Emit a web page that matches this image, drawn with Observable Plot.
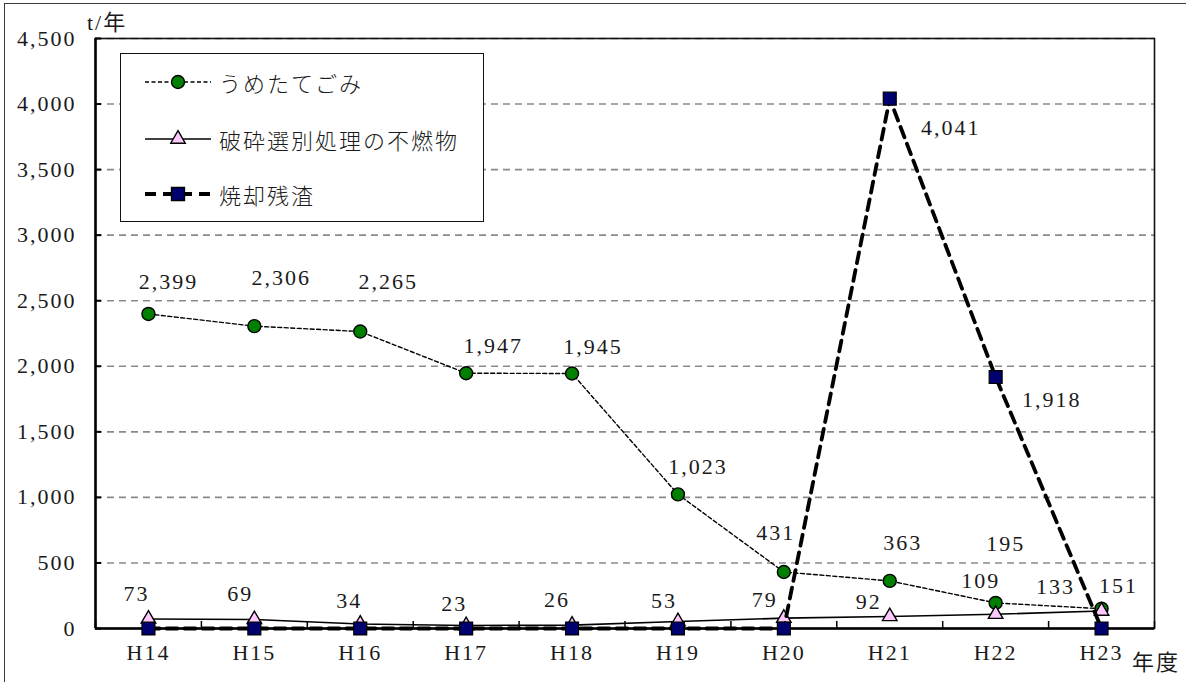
<!DOCTYPE html>
<html>
<head>
<meta charset="utf-8">
<script src="https://cdn.jsdelivr.net/npm/d3@7"></script>
<script src="https://cdn.jsdelivr.net/npm/@observablehq/plot@0.6"></script>
<style>
  html, body { margin: 0; padding: 0; background: #fff; overflow: hidden; }
  #wrap { position: relative; width: 1186px; height: 682px; }
  #frame { position: absolute; left: 4px; top: 3px; width: 1200px; height: 700px;
           border: 1.5px solid #3a3a3a; box-sizing: border-box; pointer-events: none; }
  #chart svg text { letter-spacing: 2px; }
  .note { position: absolute; font-family: 'Liberation Serif', 'Noto Sans CJK JP', serif;
          font-size: 22px; letter-spacing: 2px; color: #1a1a1a; line-height: 1; white-space: nowrap; }
  #legend { position: absolute; left: 120px; top: 53px; width: 364px; height: 169px;
            border: 1.5px solid #111; box-sizing: border-box; background: #fff; }
  #legend .row { position: absolute; left: 0; height: 30px; display: flex; align-items: center; }
  #legend .row svg { margin-left: 24px; }
  #legend .row span { margin-left: 8px; font-family: 'Noto Sans CJK JP', sans-serif; font-weight: 300;
                      font-size: 22px; letter-spacing: 2px; color: #1a1a1a; white-space: nowrap; }
</style>
</head>
<body>
<div id="wrap">
  <div id="chart"></div>
  <div class="note" style="left:87px; top:12px;">t/年</div>
  <div class="note" style="left:1132px; top:652px;">年度</div>
  <div id="legend"></div>
  <div id="frame"></div>
</div>
<script>
// Fiscal years and annual tonnages per disposal stream
const years = ["H14", "H15", "H16", "H17", "H18", "H19", "H20", "H21", "H22", "H23"];
const umetate = [2399, 2306, 2265, 1947, 1945, 1023, 431, 363, 195, 151];   // うめたてごみ
const hasai = [73, 69, 34, 23, 26, 53, 79, 92, 109, 133];                   // 破砕選別処理の不燃物
const shokyaku = [0, 0, 0, 0, 0, 0, 0, 4041, 1918, 0];                       // 焼却残渣
const yTicks = [0, 500, 1000, 1500, 2000, 2500, 3000, 3500, 4000, 4500];

// Label nudges (px) so value labels sit clear of lines and markers
const umetateShift = [[20,-32],[27,-48],[28,-50],[27,-27],[21,-27],[20,-27],[-8,-39],[13,-38],[10,-59],[17,-23]];
const hasaiShift = [[-12,-25],[-14,-26],[-11,-23],[-12,-22],[-15,-25],[-14,-21],[-19,-18],[-21,-14],[-15,-33],[-46,-24]];
const shokyakuShift = [null, null, null, null, null, null, null, [61,29], [56,23], null];

const W = 1186, H = 682;
const M = {left: 95, right: 32, top: 38, bottom: 54};
const yMax = 4500;
const xPerPx = years.length / (W - M.left - M.right);
const yPerPx = yMax / (H - M.top - M.bottom);
const fmt = d3.format(",");
const ink = "#1a1a1a";

const rows = (vals) => vals.map((v, i) => ({i, year: years[i], value: v}));
const umetateRows = rows(umetate);
const hasaiRows = rows(hasai);
const shokyakuRows = rows(shokyaku);

const labels = (data, shifts) => data.flatMap((d, k) => shifts[k] == null ? [] : [
  Plot.text([d], {x: "i", y: "value", text: (r) => fmt(r.value), dx: shifts[k][0], dy: shifts[k][1],
                  fill: ink, fontSize: 22})
]);

const boundaries = d3.range(years.length + 1).map((k) => k - 0.5);

const chart = Plot.plot({
  width: W,
  height: H,
  marginLeft: M.left, marginRight: M.right, marginTop: M.top, marginBottom: M.bottom,
  style: {fontFamily: "'Liberation Serif', 'Noto Sans CJK JP', serif", fontSize: "22px", color: ink, background: "transparent"},
  x: {type: "linear", domain: [-0.5, years.length - 0.5], axis: null},
  y: {domain: [0, yMax], axis: null},
  marks: [
    // dashed horizontal grid
    Plot.ruleY(yTicks.filter((v) => v > 0), {stroke: "#8a8a8a", strokeWidth: 1.6, strokeDasharray: "7,5"}),
    Plot.frame({stroke: "#111", strokeWidth: 1.6}),
    // axis lines
    Plot.ruleX([-0.5], {stroke: "#000", strokeWidth: 2.5}),
    Plot.ruleY([0], {stroke: "#000", strokeWidth: 2.5}),
    // inward tick marks
    Plot.ruleY(yTicks, {x1: -0.5, x2: -0.5 + 6 * xPerPx, stroke: "#000", strokeWidth: 2}),
    Plot.ruleX(boundaries, {y1: 0, y2: 7 * yPerPx, stroke: "#000", strokeWidth: 1.5}),
    // tick labels
    Plot.axisY(yTicks, {tickSize: 0, tickPadding: 19, tickFormat: fmt, label: null, fontSize: 22, fill: ink}),
    Plot.axisX(d3.range(years.length), {tickSize: 0, tickPadding: 16, tickFormat: (i) => years[i], label: null, fontSize: 22, fill: ink}),

    // うめたてごみ
    Plot.line(umetateRows, {x: "i", y: "value", stroke: "#000", strokeWidth: 1.4, strokeDasharray: "4,2.5"}),
    Plot.dot(umetateRows, {x: "i", y: "value", r: 6.5, fill: "#008000", stroke: "#000", strokeWidth: 1.4}),

    // 破砕選別処理の不燃物
    Plot.line(hasaiRows, {x: "i", y: "value", stroke: "#000", strokeWidth: 1.6}),
    Plot.dot(hasaiRows, {x: "i", y: "value", symbol: "triangle", r: 5.4, fill: "#ffc8ff", stroke: "#000", strokeWidth: 1.4}),

    // 焼却残渣
    Plot.line(shokyakuRows, {x: "i", y: "value", stroke: "#000", strokeWidth: 3.8, strokeDasharray: "11,7"}),
    Plot.dot(shokyakuRows, {x: "i", y: "value", symbol: "square", r: 7.3, fill: "#00006e", stroke: "#000", strokeWidth: 1.2}),

    ...labels(umetateRows, umetateShift),
    ...labels(hasaiRows, hasaiShift),
    ...labels(shokyakuRows, shokyakuShift)
  ]
});
document.getElementById("chart").appendChild(chart);

// Legend
const legendItems = [
  {name: "うめたてごみ", width: 1.4, dash: "4,2.5", symbol: d3.symbolCircle, size: Math.PI * 6.5 * 6.5, fill: "#008000"},
  {name: "破砕選別処理の不燃物", width: 1.6, dash: null, symbol: d3.symbolTriangle, size: Math.PI * 5.4 * 5.4, fill: "#ffc8ff"},
  {name: "焼却残渣", width: 3.8, dash: "11,7", symbol: d3.symbolSquare, size: Math.PI * 7.3 * 7.3, fill: "#00006e"}
];
const rowTops = [13, 70, 125];
const legend = d3.select("#legend");
legendItems.forEach((it, k) => {
  const row = legend.append("div").attr("class", "row").style("top", rowTops[k] + "px");
  const s = row.append("svg").attr("width", 66).attr("height", 30);
  s.append("line").attr("x1", 0).attr("x2", 66).attr("y1", 15).attr("y2", 15)
    .attr("stroke", "#000").attr("stroke-width", it.width)
    .attr("stroke-dasharray", it.dash);
  s.append("path").attr("transform", "translate(33,15)")
    .attr("d", d3.symbol(it.symbol, it.size)())
    .attr("fill", it.fill).attr("stroke", "#000").attr("stroke-width", 1.4);
  row.append("span").text(it.name);
});
</script>
</body>
</html>
